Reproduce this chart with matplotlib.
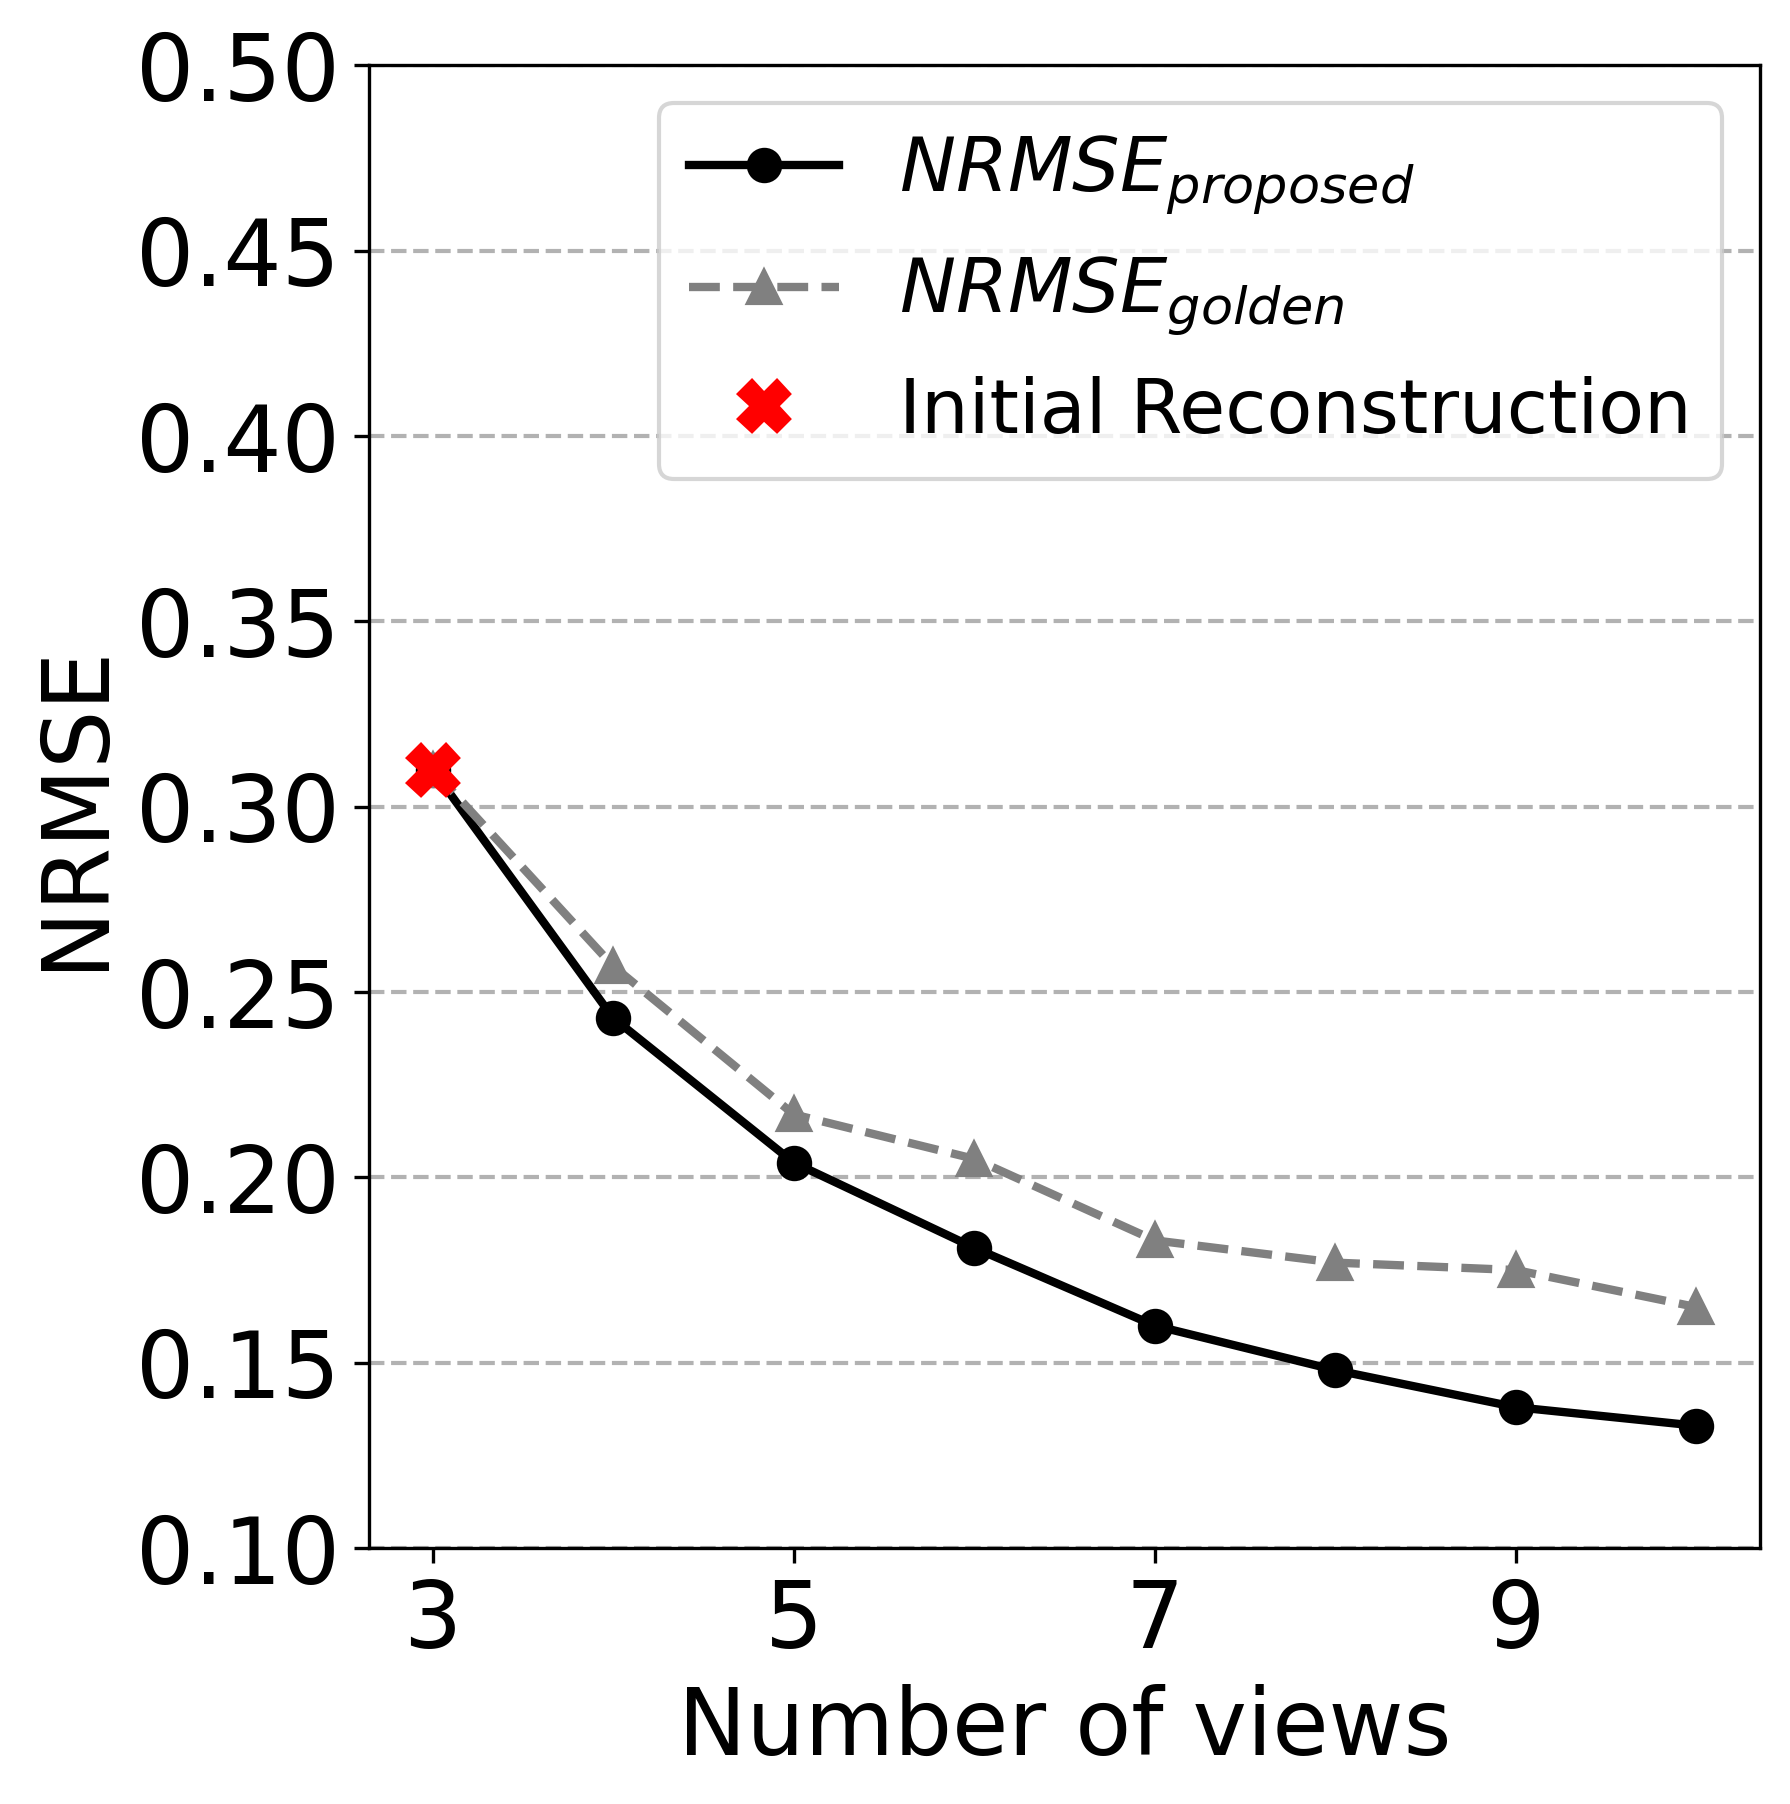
import numpy as np
import matplotlib
matplotlib.use('Agg')
import matplotlib.pyplot as plt

# data
views = [3, 4, 5, 6, 7, 8, 9, 10]
nrmse_proposed = [0.310, 0.243, 0.204, 0.181, 0.160, 0.148, 0.138, 0.133]
nrmse_golden = [0.310, 0.257, 0.217, 0.205, 0.183, 0.177, 0.175, 0.165]
initial_view = [3]
initial_nrmse = [0.310]

fig = plt.figure(figsize=(1790 / 300, 1804 / 300), dpi=300)
ax = fig.add_axes([0.2064, 0.1419, 0.7766, 0.8218])

ax.plot(views, nrmse_proposed, '-o', color='black', linewidth=2, markersize=7.5,
        label=r'$NRMSE_{proposed}$')
ax.plot(views, nrmse_golden, '--^', color='gray', linewidth=2, markersize=7.5,
        label=r'$NRMSE_{golden}$')
ax.plot(initial_view, initial_nrmse, 'X', color='red', markersize=12,
        linestyle='None', label='Initial Reconstruction', zorder=5)

ax.set_ylim(0.10, 0.50)
ax.set_yticks(np.arange(0.10, 0.501, 0.05))
ax.set_xticks([3, 5, 7, 9])
ax.tick_params(labelsize=22)
ax.set_xlabel('Number of views', fontsize=22)
ax.set_ylabel('NRMSE', fontsize=22)
ax.yaxis.grid(True, linestyle='--', color='gray', alpha=0.6, linewidth=1)
ax.legend(loc='upper right', fontsize=18)

fig.savefig('out.png', dpi=300)
